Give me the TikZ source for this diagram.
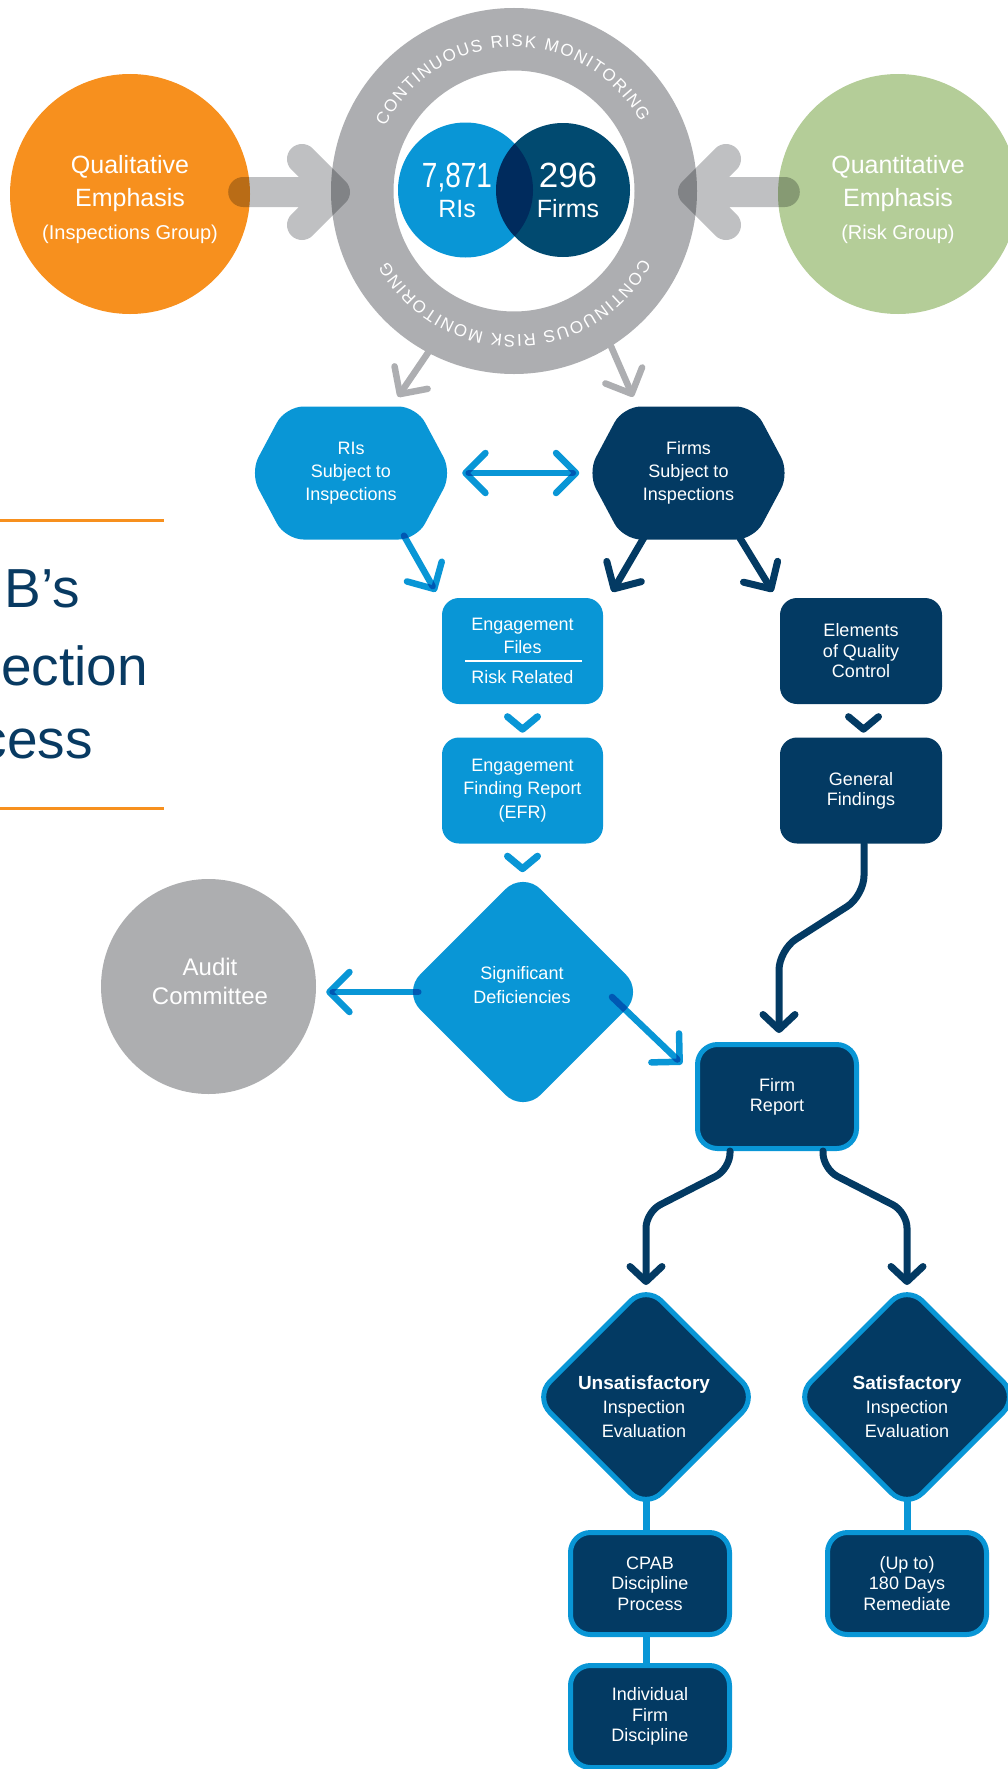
\documentclass[tikz,border=0pt]{standalone}
\usepackage{fontspec}
\setmainfont{Liberation Sans}
\usepackage{graphicx}
\usetikzlibrary{arrows.meta,shapes.geometric,decorations.text}
\definecolor{lblue}{RGB}{9,150,214}
\definecolor{navy}{RGB}{3,58,99}
\definecolor{venndark}{RGB}{1,74,112}
\definecolor{ringgray}{RGB}{173,174,177}
\definecolor{fatgray}{RGB}{191,192,194}
\definecolor{qorange}{RGB}{247,144,30}
\definecolor{qgreen}{RGB}{180,205,152}
\definecolor{auditgray}{RGB}{173,174,176}
\definecolor{titlenavy}{RGB}{8,58,98}
\newcommand\ringfont{\fontsize{17}{17}\selectfont}
\begin{document}
\begin{tikzpicture}[x=1pt,y=1pt,
  barbL/.tip={Straight Barb[length=20pt,width=40pt,round]},
  barbS/.tip={Straight Barb[length=15pt,width=32pt,round]},
  wtxt/.style={text=white, align=center, inner sep=0pt},
  f18/.style={font=\fontsize{18}{23}\selectfont},
  f18t/.style={font=\fontsize{18}{20.5}\selectfont},
  bubble/.style={circle, inner sep=0pt, minimum size=#1},
  lbox/.style={rectangle, rounded corners=17pt, fill=lblue, minimum width=161pt, minimum height=106pt, wtxt, f18},
  dbox/.style={rectangle, rounded corners=17pt, fill=navy, minimum width=162pt, minimum height=106pt, wtxt, f18t},
  bbox/.style={rectangle, rounded corners=20pt, fill=navy, draw=lblue, line width=5pt, minimum width=159pt, minimum height=102pt, wtxt, f18t},
  ddiam/.style={diamond, rounded corners=22pt, fill=navy, draw=lblue, line width=5pt, minimum width=225pt, minimum height=225pt, inner sep=0pt},
  lconn/.style={draw=lblue, line width=6.5pt, line cap=round, line join=round, blend mode=multiply},
  dconn/.style={draw=navy, line width=7pt, line cap=round, line join=round},
  gconn/.style={draw=ringgray, line width=6.5pt, line cap=round, line join=round},
  fat/.style={draw=fatgray, line width=30pt, line cap=round, line join=round, blend mode=multiply},
  chev/.style={line width=7pt, line cap=round, line join=round},
  vline/.style={draw=lblue, line width=7pt},
  ringtext/.style={decorate, decoration={text along path, text color=white, text={|\ringfont|CONTINUOUS RISK MONITORING}, text align={fit to path}}}
]
\useasboundingbox (0,0) rectangle (1008,-1769);
\clip (0,0) rectangle (1008,-1769);

% title fragments
\draw[qorange, line width=3pt] (0,-520) -- (164,-520);
\draw[qorange, line width=3pt] (0,-808) -- (164,-808);
\node[anchor=base east, inner sep=0pt, text=titlenavy, font=\fontsize{55}{55}\selectfont] (t1) at (80,-607) {B’s};
\node[anchor=base east, inner sep=0pt, text=titlenavy, font=\fontsize{55}{55}\selectfont] (t2) at (148,-685) {ection};
\node[anchor=base east, inner sep=0pt, text=titlenavy, font=\fontsize{55}{55}\selectfont] (t3) at (93,-758) {cess};

% top circles
\node[bubble=240pt, fill=qorange] (qual) at (130,-194) {};
\node[bubble=240pt, fill=qgreen] (quant) at (898,-194) {};
\node[circle, draw=ringgray, line width=62.5pt, minimum size=303.5pt, inner sep=0pt] (ring) at (514,-191) {};
\node[bubble=135pt, fill=lblue] (vennL) at (465.5,-190) {};
\node[bubble=134pt, fill=venndark, blend mode=multiply] (vennR) at (563,-190) {};

\path[ringtext] ([shift={(153.5:144pt)}]ring.center) arc[start angle=153.5, end angle=28.5, radius=144pt];
\path[ringtext] ([shift={(-28:144pt)}]ring.center) arc[start angle=-28, end angle=-151, radius=144pt];

% fat arrows
\coordinate (ftipL) at ([shift={(4pt,-1pt)}]ring.west);
\coordinate (ftipR) at ([shift={(-4pt,-1pt)}]ring.east);
\draw[fat] ([shift={(-7pt,2pt)}]qual.east) -- (ftipL) ([shift={(-33pt,33pt)}]ftipL) -- (ftipL) -- ++(-33pt,-33pt);
\draw[fat] ([shift={(7pt,2pt)}]quant.west) -- (ftipR) ([shift={(33pt,33pt)}]ftipR) -- (ftipR) -- ++(33pt,-33pt);

\node[wtxt, font=\fontsize{25}{33}\selectfont] (qualtxt) at (130,-200) {Qualitative\\Emphasis\\{\fontsize{20}{33}\selectfont (Inspections Group)}};
\node[wtxt, font=\fontsize{25}{33}\selectfont] (quanttxt) at (898,-200) {Quantitative\\Emphasis\\{\fontsize{20}{33}\selectfont (Risk Group)}};
\node[wtxt, font=\fontsize{25}{30}\selectfont] (vltxt) at (457,-190.5) {{\fontsize{35}{30}\selectfont\scalebox{0.8}[1]{7,871}}\\RIs};
\node[wtxt, font=\fontsize{25}{30}\selectfont] (vrtxt) at (568,-190.5) {{\fontsize{35}{30}\selectfont 296}\\Firms};

% hexagons
\fill[lblue, rounded corners=18pt] (250,-473) -- (285.5,-406.5) -- (416.5,-406.5) -- (452,-473) -- (416.5,-539.5) -- (285.5,-539.5) -- cycle;
\fill[navy, rounded corners=18pt] (587.5,-473) -- (623,-406.5) -- (754,-406.5) -- (789.5,-473) -- (754,-539.5) -- (623,-539.5) -- cycle;
\node[wtxt, f18, minimum width=202pt, minimum height=133pt] (rihex) at (351,-473) {RIs\\Subject to\\Inspections};
\node[wtxt, f18, minimum width=202pt, minimum height=133pt] (fhex) at (688.5,-473) {Firms\\Subject to\\Inspections};

% gray arrows from ring
\draw[gconn, -{barbL}] (ring.-118.2) -- ([shift={(47pt,9.5pt)}]rihex.north);
\draw[gconn, -{barbL}] (ring.-58.2) -- ([shift={(-55.5pt,9.5pt)}]fhex.north);

% boxes
\node[lbox] (eng) at (522.5,-651) {Engagement\\Files\\[7pt]Risk Related};
\draw[white, line width=1.2pt] ([shift={(-57.5pt,-10pt)}]eng.center) -- ([shift={(59.5pt,-10pt)}]eng.center);
\node[lbox, font=\fontsize{18}{23.5}\selectfont] (efr) at (522.5,-790.5) {Engagement\\Finding Report\\(EFR)};
\node[dbox] (elem) at (861,-651) {Elements\\of Quality\\Control};
\node[dbox, font=\fontsize{18}{20}\selectfont] (gfind) at (861,-790.5) {General\\Findings};

\node[diamond, fill=lblue, rounded corners=25pt, minimum width=241pt, minimum height=241pt, inner sep=0pt] (sig) at (523,-992) {};
\node[wtxt, font=\fontsize{18}{24}\selectfont] (sigtxt) at (522,-985.5) {Significant\\Deficiencies};
\node[bubble=215pt, fill=auditgray] (audit) at (208.5,-986.5) {};
\node[wtxt, font=\fontsize{24}{29}\selectfont] (audittxt) at (210,-981) {Audit\\Committee};

\node[bbox, minimum height=104pt, font=\fontsize{18}{20}\selectfont] (frep) at (777,-1096.5) {Firm\\Report};

\node[ddiam] (unsat) at (646,-1397) {};
\node[ddiam] (sat) at (907,-1397) {};
\node[wtxt, font=\fontsize{18}{24}\selectfont] (unsattxt) at (644,-1407) {{\fontsize{19}{24}\selectfont\bfseries Unsatisfactory}\\Inspection\\Evaluation};
\node[wtxt, font=\fontsize{18}{24}\selectfont] (sattxt) at (907,-1407) {{\fontsize{19}{24}\selectfont\bfseries Satisfactory}\\Inspection\\Evaluation};

\node[bbox] (cpab) at (650,-1583.5) {CPAB\\Discipline\\Process};
\node[bbox] (remed) at (907,-1583.5) {(Up to)\\180 Days\\Remediate};
\node[bbox] (indiv) at (650,-1716.5) {Individual\\Firm\\Discipline};

% connectors
\draw[lconn, {barbL}-{barbL}] ([xshift=10pt]rihex.east) -- ([xshift=-8pt]fhex.west);
\draw[lconn, -{barbL}] ([shift={(53pt,4pt)}]rihex.south) -- ([shift={(-6pt,6pt)}]eng.north west);
\draw[dconn, -{barbL}] ([shift={(-43.5pt,4pt)}]fhex.south) -- ([shift={(9pt,6pt)}]eng.north east);
\draw[dconn, -{barbL}] ([shift={(50pt,4pt)}]fhex.south) -- ([shift={(-7pt,6pt)}]elem.north west);

\draw[chev, draw=lblue] ([shift={(-15pt,-12.5pt)}]eng.south) -- ([yshift=-25pt]eng.south) -- ([shift={(15pt,-12.5pt)}]eng.south);
\draw[chev, draw=lblue] ([shift={(-15pt,-12.5pt)}]efr.south) -- ([yshift=-25pt]efr.south) -- ([shift={(15pt,-12.5pt)}]efr.south);
\draw[chev, draw=navy] ([shift={(-12.5pt,-12.5pt)}]elem.south) -- ([shift={(2.5pt,-25pt)}]elem.south) -- ([shift={(17.5pt,-12.5pt)}]elem.south);

\draw[dconn, -{barbS}, rounded corners=20pt] ([xshift=3pt]gfind.south) -- ++(0,-52pt) -- ([shift={(2pt,92pt)}]frep.north) -- ([shift={(2pt,9pt)}]frep.north);

\coordinate (auditin) at ([xshift=10pt]audit.east);
\draw[lconn, -{barbL}] ([xshift=16pt]sig.west) -- (auditin |- sig.west);
\draw[lconn, -{barbL}] ([shift={(89pt,-5pt)}]sig.center) -- ([shift={(-13pt,-22pt)}]frep.north west);

\draw[dconn, -{barbS}, rounded corners=16pt] ([xshift=-47pt]frep.south) -- ++(0,-18pt) -- ([yshift=70pt]unsat.north) -- ([yshift=-3pt]unsat.north);
\draw[dconn, -{barbS}, rounded corners=16pt] ([xshift=46pt]frep.south) -- ++(0,-18pt) -- ([yshift=70pt]sat.north) -- ([yshift=-3pt]sat.north);

\draw[vline] ([yshift=11pt]unsat.south) -- (unsat.south |- cpab.north);
\draw[vline] (unsat.south |- cpab.south) -- (unsat.south |- indiv.north);
\draw[vline] ([yshift=11pt]sat.south) -- (sat.south |- remed.north);
\end{tikzpicture}
\end{document}
